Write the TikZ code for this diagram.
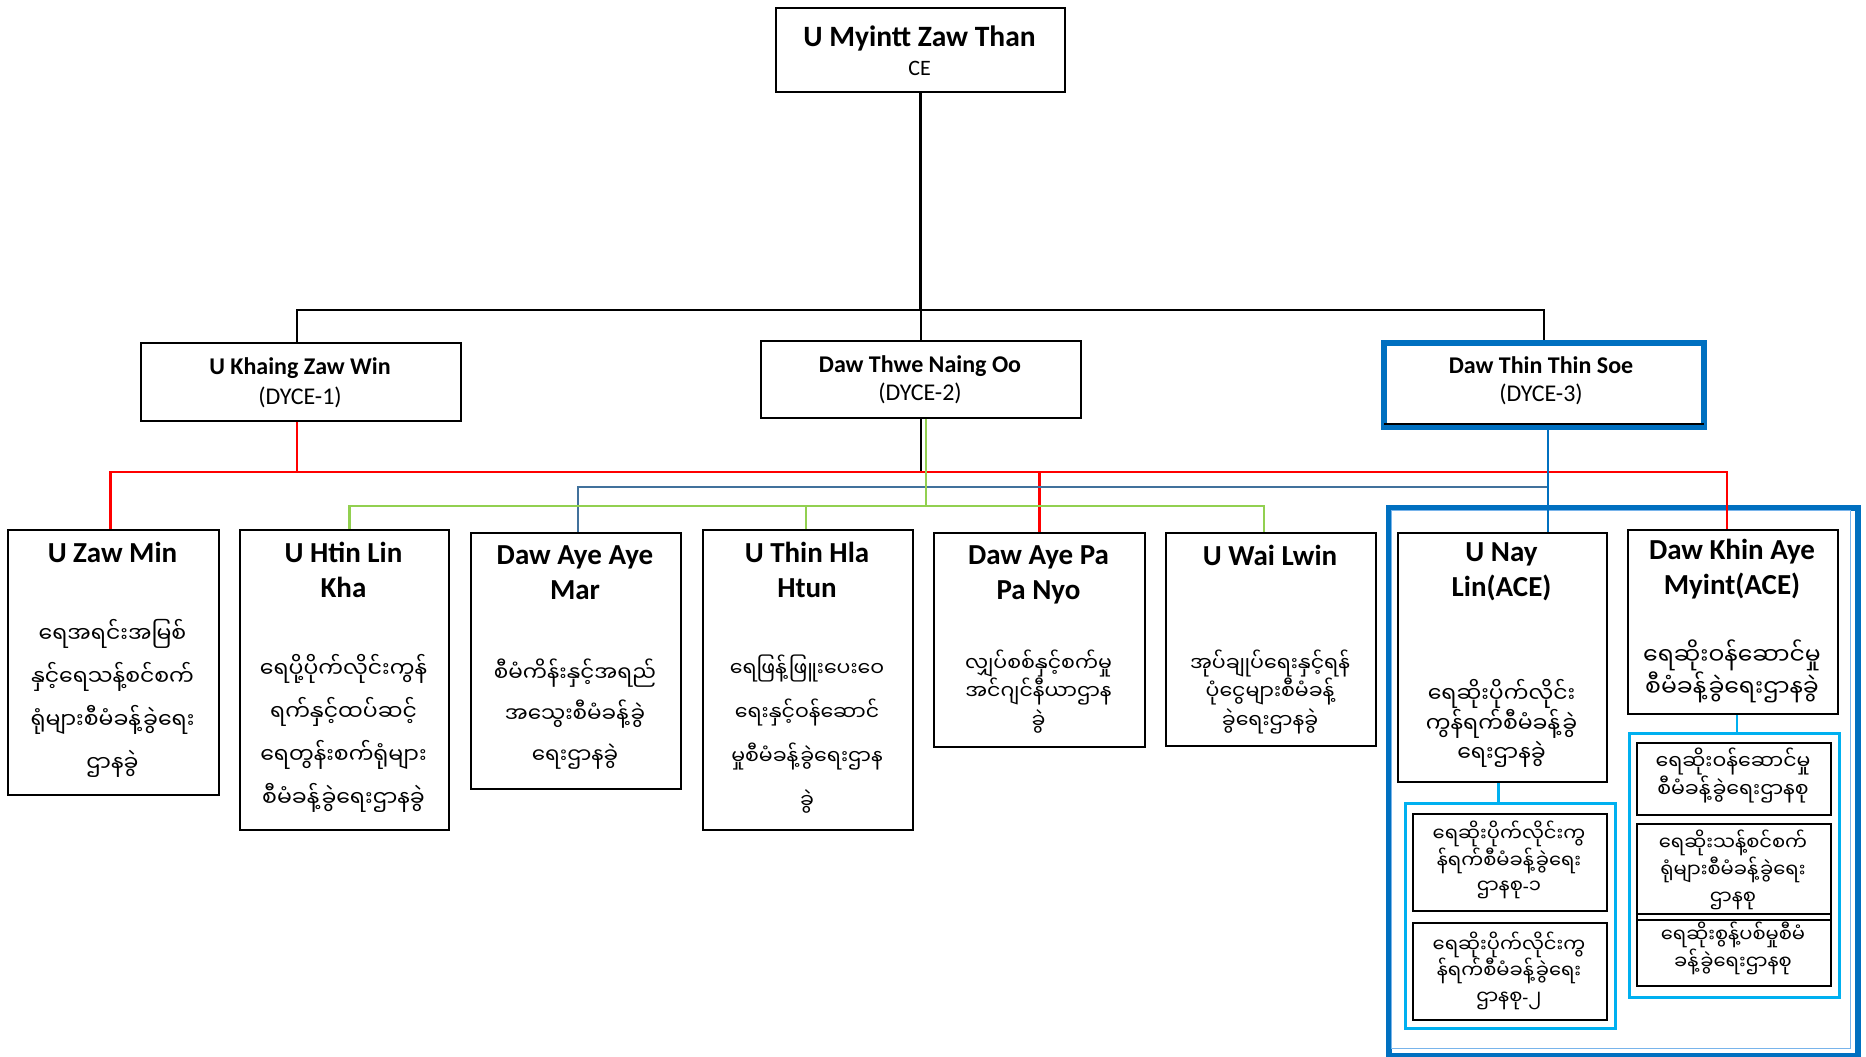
\documentclass[tikz,border=0pt]{standalone}
\usepackage{fontspec}
\setmainfont{Carlito}
\newfontfamily\mmfont[Script=Myanmar]{Noto Sans Myanmar UI}
\newfontfamily\latinfont{Carlito}
\definecolor{dblue}{RGB}{0,112,192}
\definecolor{sblue}{RGB}{0,176,240}
\definecolor{gblue}{RGB}{65,113,156}
\definecolor{lgreen}{RGB}{146,208,80}
\definecolor{lred}{RGB}{255,0,0}
\begin{document}
\begin{tikzpicture}[x=1pt,y=-1pt,
  box/.style={draw=black,line width=2pt,fill=white,inner sep=0pt,anchor=north west},
  grp/.style={draw=sblue,line width=2.5pt,inner sep=0pt,anchor=north west},
  nm/.style={inner sep=0pt,align=center,font=\bfseries\fontsize{29}{35}\selectfont},
  tnm/.style={inner sep=0pt,font=\bfseries\fontsize{24}{29}\selectfont},
  tcd/.style={inner sep=0pt,font=\fontsize{24}{29}\selectfont},
  mmt/.style 2 args={inner sep=0pt,align=center,font=\mmfont\fontsize{#1}{#2}\selectfont},
  kline/.style={draw=black,line width=2.5pt},
  rline/.style={draw=lred,line width=2.5pt},
  gline/.style={draw=lgreen,line width=2.5pt},
  bline/.style={draw=gblue,line width=2.5pt},
  dline/.style={draw=dblue,line width=2.5pt},
  sline/.style={draw=sblue,line width=2.5pt}]
\useasboundingbox (0,0) rectangle (1866,1057);

% large blue frame and groups
\node[draw=dblue,line width=6pt,inner sep=0pt,anchor=north west,minimum width=469pt,minimum height=548pt] (big) at (1386,505) {};
\node[draw={rgb,255:red,120;green,180;blue,235},line width=1pt,inner sep=0pt,anchor=north west,minimum width=459pt,minimum height=538pt] (bigin) at (1391,510) {};
\node[grp,minimum width=210pt,minimum height=225pt] (gL) at (1404,802) {};
\node[grp,minimum width=210pt,minimum height=264pt] (gR) at (1628,732) {};

% top levels
\node[box,minimum width=289pt,minimum height=84pt] (ce) at (775,7) {};
\node[box,minimum width=320pt,minimum height=78pt] (d1) at (140,342) {};
\node[box,minimum width=320pt,minimum height=77pt] (d2) at (760,340) {};
\node[draw=dblue,line width=6pt,fill=white,inner sep=0pt,anchor=north west,minimum width=320pt,minimum height=84pt] (d3) at (1381,340) {};
\draw[black,line width=1.5pt] ([shift={(3pt,6pt)}]d3.south west) -- ([shift={(-3pt,6pt)}]d3.south east);

% bottom boxes
\node[box,minimum width=211pt,minimum height=265pt] (b1) at (7,529) {};
\node[box,minimum width=209pt,minimum height=300pt] (b2) at (239,529) {};
\node[box,minimum width=210pt,minimum height=256pt] (b3) at (470,532) {};
\node[box,minimum width=210pt,minimum height=300pt] (b4) at (702,529) {};
\node[box,minimum width=211pt,minimum height=214pt] (b5) at (933,532) {};
\node[box,minimum width=210pt,minimum height=213pt] (b6) at (1165,532) {};
\node[box,minimum width=209pt,minimum height=249pt] (b7) at (1397,532) {};
\node[box,minimum width=210pt,minimum height=184pt] (b8) at (1627,529) {};
\node[box,minimum width=194pt,minimum height=97pt] (sA) at (1412,813) {};
\node[box,minimum width=194pt,minimum height=97pt] (sB) at (1412,922) {};
\node[box,minimum width=194pt,minimum height=72pt] (sC) at (1636,742) {};
\node[box,minimum width=194pt,minimum height=90pt] (sD) at (1636,823) {};
\node[box,minimum width=194pt,minimum height=72pt] (sE) at (1636,913) {};
\draw[black,line width=2pt] ([yshift=-7pt]sE.north west) -- ([yshift=-7pt]sE.north east);

% connector points
\coordinate (jT) at (0,310);
\coordinate (jR) at (0,472);
\coordinate (jB) at (0,487);
\coordinate (jG) at (0,506);
\coordinate (d1t) at ([xshift=-4pt]d1.north);
\coordinate (d1b) at ([xshift=-4pt]d1.south);
\coordinate (d2g) at ([xshift=5pt]d2.south);
\coordinate (d3b) at ([xshift=4pt]d3.south);
\coordinate (b1t) at ([xshift=-3pt]b1.north);
\coordinate (b2t) at ([xshift=5pt]b2.north);
\coordinate (b3t) at ([xshift=2pt]b3.north);
\coordinate (b4t) at ([xshift=-2pt]b4.north);
\coordinate (b6t) at ([xshift=-7pt]b6.north);
\coordinate (b8t) at ([xshift=-6pt]b8.north);
\coordinate (b7b) at ([xshift=-4pt]b7.south);
\coordinate (b8b) at ([xshift=4pt]b8.south);

% connectors
\draw[kline] (ce.south) -- (ce.south |- jT);
\draw[kline] (d1t) |- (d3.north |- jT) -- (d3.north);
\draw[kline] (d2.north) -- (d2.north |- jT);
\draw[kline] (d2.south) -- (d2.south |- jR);
\draw[rline] (d1b) -- (d1b |- jR);
\draw[rline] (b1t) |- (b8t |- jR) -- (b8t);
\draw[rline] (b5.north) -- (b5.north |- jR);
\draw[bline] (b3t) |- (d3b |- jB);
\draw[dline] (d3b) -- (d3b |- b7.north);
\draw[gline] (d2g) -- (d2g |- jG);
\draw[gline] (b2t) |- (b6t |- jG) -- (b6t);
\draw[gline] (b4t) -- (b4t |- jG);
\draw[sline] (b7b) -- (b7b |- gL.north);
\draw[sline] (b8b) -- (b8b |- gR.north);

% texts top
\node[inner sep=0pt,font=\bfseries\fontsize{29.5}{35}\selectfont] (cet) at (919.5,38) {U Myintt Zaw Than};
\node[inner sep=0pt,font=\fontsize{22}{26}\selectfont] (cec) at (919.5,68) {CE};
\node[tnm] (d1n) at (300,368) {U Khaing Zaw Win};
\node[tcd] (d1c) at (300,397) {(DYCE-1)};
\node[tnm] (d2n) at (920,366) {Daw Thwe Naing Oo};
\node[tcd] (d2c) at (920,393) {(DYCE-2)};
\node[tnm] (d3n) at (1541,365) {Daw Thin Thin Soe};
\node[tcd] (d3c) at (1541,394) {(DYCE-3)};

% names
\node[nm] (b1n) at (112.5,552) {U Zaw Min};
\node[nm] (b2n) at (343.5,570) {U Htin Lin\\Kha};
\node[nm] (b3n) at (575,572.5) {Daw Aye Aye\\Mar};
\node[nm] (b4n) at (807,570) {U Thin Hla\\Htun};
\node[nm] (b5n) at (1038.5,574.5) {Daw Aye Pa\\Pa Nyo};
\node[nm] (b6n) at (1270,555) {U Wai Lwin};
\node[nm] (b7n) at (1501.5,572) {U Nay\\Lin(ACE)};
\node[nm] (b8n) at (1732,569.5) {Daw Khin Aye\\Myint(ACE)};

% myanmar texts
\node[mmt={22}{43}] (b1m) at (112.5,698) {ရေအရင်းအမြစ်\\နှင့်ရေသန့်စင်စက်\\ရုံများစီမံခန့်ခွဲရေး\\ဌာနခွဲ};
\node[mmt={22}{43}] (b2m) at (343.5,733) {ရေပို့ပိုက်လိုင်းကွန်\\ရက်နှင့်ထပ်ဆင့်\\ရေတွန်းစက်ရုံများ\\စီမံခန့်ခွဲရေးဌာနခွဲ};
\node[mmt={21.5}{41}] (b3m) at (575,714) {စီမံကိန်းနှင့်အရည်\\အသွေးစီမံခန့်ခွဲ\\ရေးဌာနခွဲ};
\node[mmt={20.5}{44}] (b4m) at (807,734) {ရေဖြန့်ဖြူးပေးဝေ\\ရေးနှင့်ဝန်ဆောင်\\မှုစီမံခန့်ခွဲရေးဌာန\\ခွဲ};
\node[mmt={20.5}{28.5}] (b5m) at (1038.5,691.5) {လျှပ်စစ်နှင့်စက်မှု\\အင်ဂျင်နီယာဌာန\\ခွဲ};
\node[mmt={20.5}{28.5}] (b6m) at (1270,691.5) {အုပ်ချုပ်ရေးနှင့်ရန်\\ပုံငွေများစီမံခန့်\\ခွဲရေးဌာနခွဲ};
\node[mmt={22}{28.5}] (b7m) at (1501.5,723.5) {ရေဆိုးပိုက်လိုင်း\\ကွန်ရက်စီမံခန့်ခွဲ\\ရေးဌာနခွဲ};
\node[mmt={23.5}{27}] (b8m) at (1732,671.5) {ရေဆိုးဝန်ဆောင်မှု\\စီမံခန့်ခွဲရေးဌာနခွဲ};
\node[mmt={19.5}{25}] (sAm) at (1509,860) {ရေဆိုးပိုက်လိုင်းကွ\\န်ရက်စီမံခန့်ခွဲရေး\\ဌာနစု{\latinfont -}၁};
\node[mmt={19.5}{26}] (sBm) at (1509,971) {ရေဆိုးပိုက်လိုင်းကွ\\န်ရက်စီမံခန့်ခွဲရေး\\ဌာနစု{\latinfont -}၂};
\node[mmt={20.5}{25}] (sCm) at (1733,775.5) {ရေဆိုးဝန်ဆောင်မှု\\စီမံခန့်ခွဲရေးဌာနစု};
\node[mmt={19.5}{27}] (sDm) at (1733,870) {ရေဆိုးသန့်စင်စက်\\ရုံများစီမံခန့်ခွဲရေး\\ဌာနစု};
\node[mmt={19.5}{27}] (sEm) at (1733,948.5) {ရေဆိုးစွန့်ပစ်မှုစီမံ\\ခန့်ခွဲရေးဌာနစု};
\end{tikzpicture}
\end{document}
